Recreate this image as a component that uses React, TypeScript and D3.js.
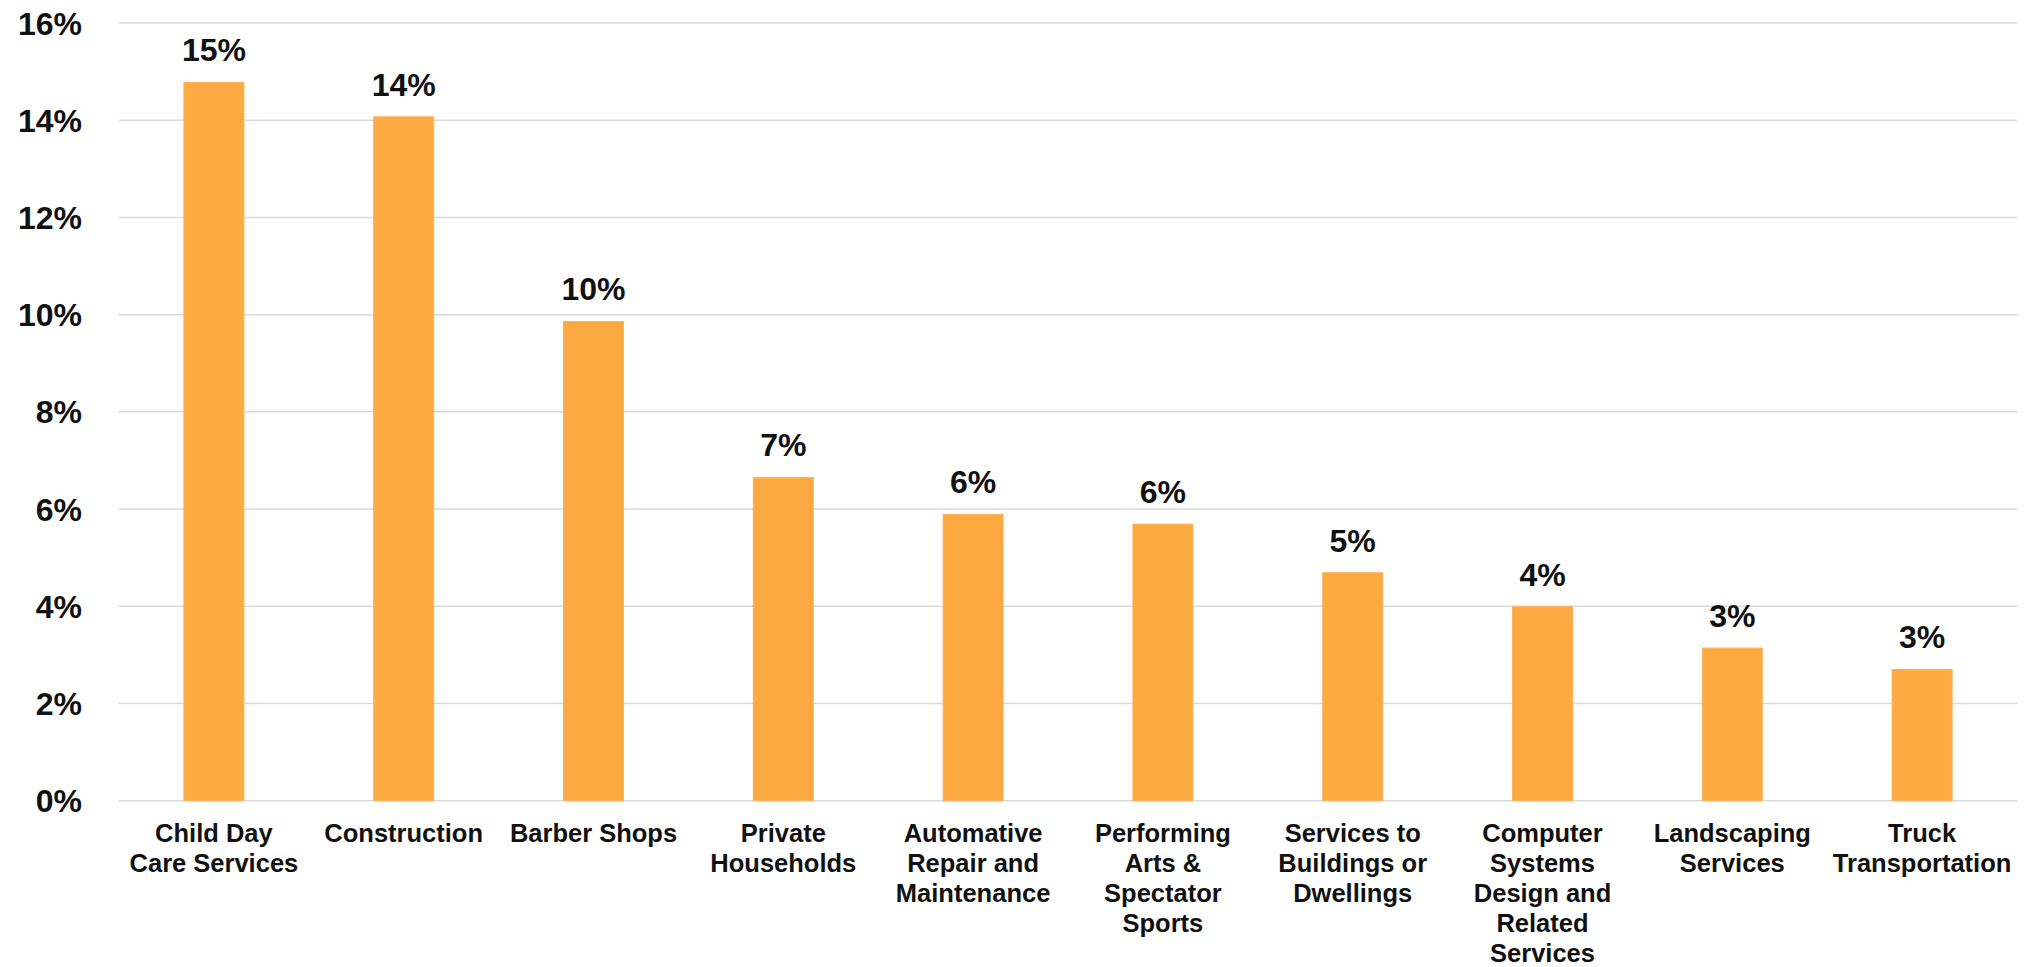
import React from "react";
import * as d3 from "d3";

const categories: string[] = [
  "Child Day\nCare Services",
  "Construction",
  "Barber Shops",
  "Private\nHouseholds",
  "Automative\nRepair and\nMaintenance",
  "Performing\nArts &\nSpectator\nSports",
  "Services to\nBuildings or\nDwellings",
  "Computer\nSystems\nDesign and\nRelated\nServices",
  "Landscaping\nServices",
  "Truck\nTransportation",
];
const values: number[] = [14.78, 14.07, 9.86, 6.65, 5.89, 5.69, 4.69, 3.99, 3.14, 2.7];
const yTicks: number[] = [0, 2, 4, 6, 8, 10, 12, 14, 16];

const W = 2034;
const H = 967;
const FONT = "'Liberation Sans', Arial, sans-serif";

export default function App() {
  const left = 119;
  const right = 2017;
  const top = 23;
  const bottom = 800.7;
  const x = d3.scaleBand<string>().domain(categories).range([left, right]).paddingInner(0.684).paddingOuter(0.342);
  const y = d3.scaleLinear().domain([0, 16]).range([bottom, top]);
  const fmt = (v: number) => `${Math.round(v)}%`;

  return (
    <svg width={W} height={H} style={{ position: "absolute", left: 0, top: 0, background: "#fff" }} fontFamily={FONT}>
      {yTicks.map((t) => (
        <g key={t}>
          <line x1={left} x2={right} y1={y(t)} y2={y(t)} stroke="#d9d9d9" strokeWidth={1.5} />
          <text x={82} y={y(t)} dy="0.36em" textAnchor="end" fontSize={32} fontWeight="bold" fill="#111">
            {t}%
          </text>
        </g>
      ))}
      {categories.map((c, i) => {
        const bx = x(c)!;
        const bw = x.bandwidth();
        const cx = bx + bw / 2;
        return (
          <g key={c}>
            <rect x={bx} y={y(values[i])} width={bw} height={bottom - y(values[i])} fill="#fda942" stroke="#fdb25a" strokeWidth={1} />
            <text x={cx} y={y(values[i]) - 21} textAnchor="middle" fontSize={32} fontWeight="bold" fill="#111">
              {fmt(values[i])}
            </text>
            <text textAnchor="middle" fontSize={25.5} fontWeight="bold" fill="#111">
              {c.split("\n").map((line, j) => (
                <tspan key={j} x={cx} y={841.7 + j * 30}>
                  {line}
                </tspan>
              ))}
            </text>
          </g>
        );
      })}
    </svg>
  );
}
